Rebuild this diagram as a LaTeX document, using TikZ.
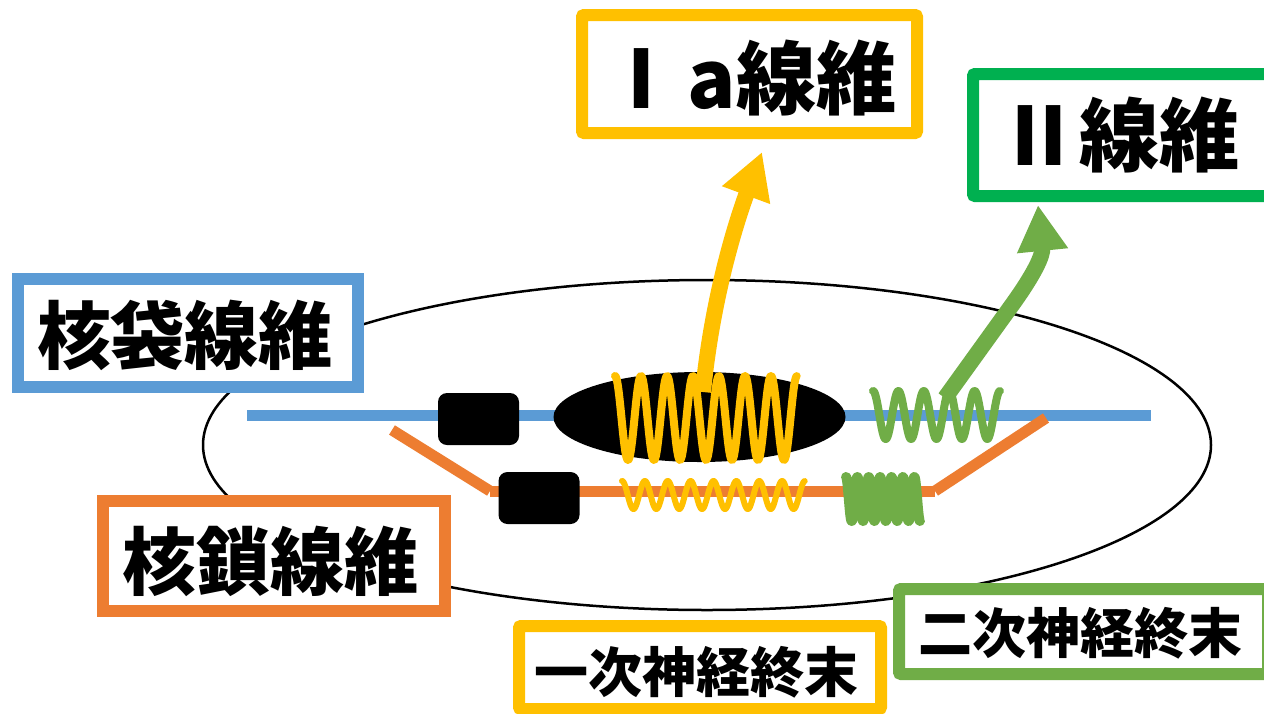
\documentclass[tikz,border=0pt]{standalone}
\usepackage{fontspec}
\usetikzlibrary{arrows.meta,shapes.geometric}
\newfontfamily\jpfont{Noto Sans CJK JP Black}
\definecolor{cgold}{HTML}{FFC000}
\definecolor{corange}{HTML}{ED7D31}
\definecolor{cblue}{HTML}{5B9BD5}
\definecolor{cleaf}{HTML}{70AD47}
\definecolor{cgreen}{HTML}{00B050}
\begin{document}
\begin{tikzpicture}[x=1pt,y=-1pt,
  labelbox/.style={draw, line width=12pt, fill=white, inner sep=0pt, rounded corners=2pt},
  bigtext/.style={font=\jpfont\fontsize{74}{80}\selectfont, inner sep=0pt},
  hugetext/.style={font=\jpfont\fontsize{80}{88}\selectfont, inner sep=0pt},
  smalltext/.style={font=\jpfont\fontsize{54}{60}\selectfont, inner sep=0pt},
  coil/.style={line cap=round, line join=round},
  fibre/.style={line width=11pt},
  pole/.style={fill=black, rounded corners=9pt, minimum width=81pt, minimum height=52pt, inner sep=0pt},
  nerve/.style={line width=16pt, -{Triangle[length=46pt,width=48pt]}}
]
\useasboundingbox (0,0) rectangle (1264,713);
\fill[white] (0,0) rectangle (1264,713);

% spindle capsule
\node[draw, ellipse, line width=2.5pt, minimum width=1008pt, minimum height=330pt, inner sep=0pt] (capsule) at (707,445) {};

% nuclear bag fibre
\coordinate (bagL) at (247,415);
\coordinate (bagR) at (1151,415);
\draw[fibre, cblue] (bagL) -- (bagR);

% nuclear chain fibre
\coordinate (chL) at (392,430);
\coordinate (chA) at (490,491);
\coordinate (chB) at (935,491);
\coordinate (chR) at (1046,418);
\draw[fibre, corange] (chL) -- (chA);
\draw[fibre, corange] (chA) -- (chB);
\draw[fibre, corange] (chB) -- (chR);

% contractile poles and nuclear bag
\node[pole] (pole1) at (478.5,419) {};
\node[pole] (pole2) at (539,498) {};
\node[ellipse, fill=black, minimum width=292pt, minimum height=90pt, inner sep=0pt] (bag) at (699.5,417) {};

% annulospiral (primary) endings
\draw[coil, cgold, line width=8pt] plot[domain=0:1, samples=400] ({615+182*\x},{418-42*cos(7*360*\x)});
\draw[coil, cgold, line width=6pt] plot[domain=0:1, samples=400] ({622+183*\x},{495-14*cos(8*360*\x)});

% flower-spray (secondary) endings
\draw[coil, cleaf, line width=8pt] plot[domain=0:1, samples=300] ({873+127*\x},{415-24*cos(5*360*\x)});
\draw[coil, cleaf, line width=10pt] plot[domain=0:1, samples=300] ({846+74*\x},{499-22*cos(6.5*360*\x)});

% afferent fibres
\coordinate (iaRoot) at (703,392);
\coordinate (iaTip) at (762,152);
\coordinate (iiRoot) at (945,398);
\coordinate (iiTip) at (1038,205);
\draw[nerve, cgold] (iaRoot) .. controls (712,300) and (735,225) .. (iaTip);
\draw[nerve, cleaf] (iiRoot) -- (1012,305) .. controls (1035,273) and (1043,255) .. (iiTip);

% labels
\node[labelbox, draw=cgold, minimum width=335pt, minimum height=118pt] (iaBox) at (749.5,74) {};
\node[hugetext] (iaText) at (749,78) {Ⅰ\hspace{6pt}a線維};

\node[labelbox, draw=cgreen, minimum width=302pt, minimum height=122pt] (iiBox) at (1124,135) {};
\node[hugetext] (iiText) at (1119,135) {Ⅱ線維};

\node[labelbox, draw=cblue, minimum width=340pt, minimum height=108pt, rounded corners=0pt] (bagBox) at (188,333) {};
\node[bigtext] (bagText) at (185,335) {核袋線維};

\node[labelbox, draw=corange, minimum width=342pt, minimum height=110pt, rounded corners=0pt] (chainBox) at (274,556) {};
\node[bigtext] (chainText) at (270,561) {核鎖線維};

\node[labelbox, draw=cgold, minimum width=362pt, minimum height=83pt] (priBox) at (700,667.5) {};
\node[smalltext] (priText) at (696,672) {一次神経終末};

\node[labelbox, draw=cleaf, minimum width=369pt, minimum height=85pt] (secBox) at (1083.5,631.5) {};
\node[smalltext] (secText) at (1080,633) {二次神経終末};
\end{tikzpicture}
\end{document}
